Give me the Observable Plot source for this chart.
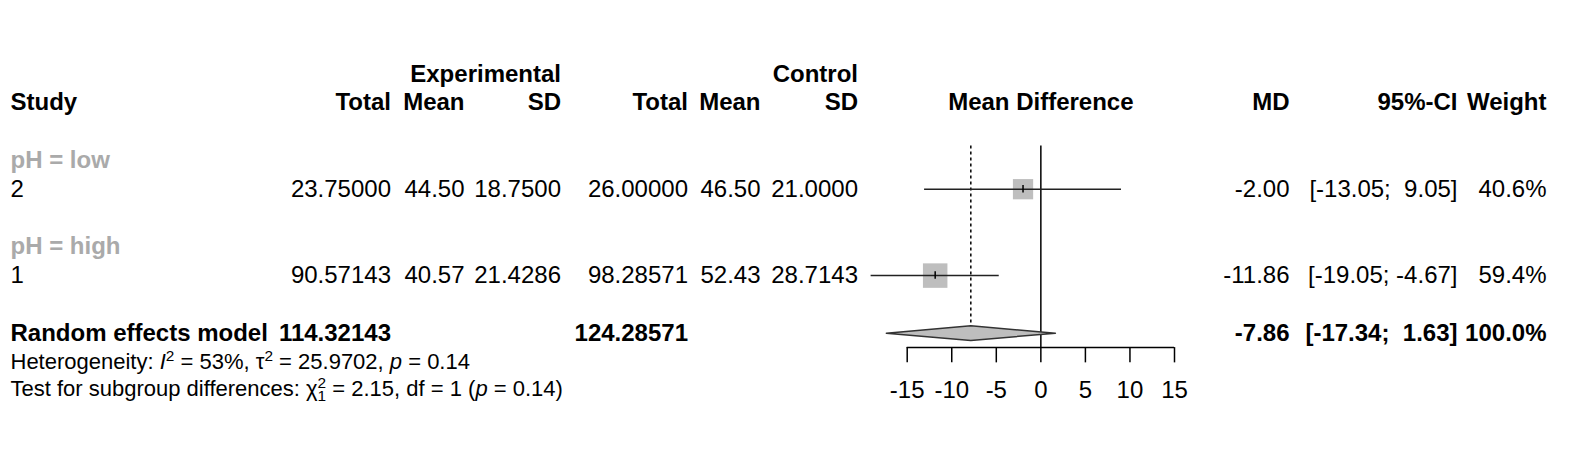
<!DOCTYPE html>
<html><head><meta charset="utf-8">
<script src="https://cdn.jsdelivr.net/npm/d3@7"></script>
<script src="https://cdn.jsdelivr.net/npm/@observablehq/plot@0.6"></script>
<style>
body{margin:0;background:#fff}
#chart svg{font-family:"Liberation Sans",Arial,Helvetica,sans-serif;background:#fff}
</style>
</head><body><div id="chart"></div>
<script>
// ---- data ----
const groups = ["pH = low", "pH = high"];
const studies = ["2", "1"];
const expTotal = [23.75, 90.57143];
const expMean = [44.50, 40.57];
const expSD = [18.75, 21.4286];
const ctrlTotal = [26.0, 98.28571];
const ctrlMean = [46.50, 52.43];
const ctrlSD = [21.0, 28.7143];
const md = [-2.00, -11.86];
const ciLower = [-13.05, -19.05];
const ciUpper = [9.05, -4.67];
const weight = [40.6, 59.4];
const pooledLabel = "Random effects model";
const pooledTotals = [114.32143, 124.28571];
const pooledMD = -7.86;
const pooledCI = [-17.34, 1.63];
const pooledWeight = 100.0;
const xTicks = [-15, -10, -5, 0, 5, 10, 15];
const hetI2 = 53, hetTau2 = "25.9702", hetP = "0.14";
const subChi2 = "2.15", subDf = 1, subP = "0.14";

// ---- layout constants ----
const FS = 24, FSH = 22;
const ROW0 = 73.5, ROWH = 28.8;
const loc = d3.formatLocale({decimal: ".", thousands: ",", grouping: [3], currency: ["", ""], minus: "-"});
const f2 = loc.format(".2f"), f4 = loc.format(".4f"), f5 = loc.format(".5f"), f1 = loc.format(".1f");
const upW = d3.max([...ciUpper, pooledCI[1]].map(v => f2(v).length));
const ciStr = (lo, hi) => "[" + f2(lo) + "; " + f2(hi).padStart(upW, "\u00a0") + "]";

const rows = studies.map((s, i) => ({
  group: groups[i], study: s, gk: 3 + 3 * i, k: 4 + 3 * i,
  eT: f5(expTotal[i]), eM: f2(expMean[i]), eS: f4(expSD[i]),
  cT: f5(ctrlTotal[i]), cM: f2(ctrlMean[i]), cS: f4(ctrlSD[i]),
  md: md[i], lower: ciLower[i], upper: ciUpper[i], weight: weight[i],
  mdS: f2(md[i]), ciS: ciStr(ciLower[i], ciUpper[i]), wS: f1(weight[i]) + "%"
}));
const pooledK = 9;
const pooled = [{k: pooledK, label: pooledLabel, eT: f5(pooledTotals[0]), cT: f5(pooledTotals[1]),
  mdS: f2(pooledMD), ciS: ciStr(pooledCI[0], pooledCI[1]), wS: f1(pooledWeight) + "%"}];

const colRight = {eT: 390.5, eM: 464, eS: 560.5, cT: 687.5, cM: 760, cS: 857.5, mdS: 1289, ciS: 1457, wS: 1546};
const headers = {eT: "Total", eM: "Mean", eS: "SD", cT: "Total", cM: "Mean", cS: "SD", mdS: "MD", ciS: "95%-CI", wS: "Weight"};
const LEFT = 10;
const diamondH = 0.255;

const textCommon = {fontSize: FS, fill: "#000", frameAnchor: "left", textAnchor: "end"};
const marks = [];

// header row 0
marks.push(Plot.text(["Experimental"], {...textCommon, y: () => 0, text: d => d, dx: colRight.eS, fontWeight: "bold"}));
marks.push(Plot.text(["Control"], {...textCommon, y: () => 0, text: d => d, dx: colRight.cS, fontWeight: "bold"}));
// header row 1
marks.push(Plot.text(["Study"], {...textCommon, y: () => 1, text: d => d, dx: LEFT, textAnchor: "start", fontWeight: "bold"}));
for (const key of Object.keys(headers)) {
  marks.push(Plot.text([headers[key]], {...textCommon, y: () => 1, text: d => d, dx: colRight[key], fontWeight: "bold"}));
}
marks.push(Plot.text(["Mean Difference"], {fontSize: FS, fontWeight: "bold", fill: "#000", y: () => 1,
  x: () => (d3.min(xTicks) + d3.max(xTicks)) / 2, text: d => d, textAnchor: "middle"}));

// group labels
marks.push(Plot.text(rows, {...textCommon, y: "gk", text: "group", dx: LEFT, textAnchor: "start", fontWeight: "bold", fill: "#aaaaaa"}));
// study rows
marks.push(Plot.text(rows, {...textCommon, y: "k", text: "study", dx: LEFT, textAnchor: "start"}));
for (const key of Object.keys(colRight)) {
  marks.push(Plot.text(rows, {...textCommon, y: "k", text: key, dx: colRight[key]}));
}
// pooled row
marks.push(Plot.text(pooled, {...textCommon, y: "k", text: "label", dx: LEFT, textAnchor: "start", fontWeight: "bold"}));
for (const key of ["eT", "cT", "mdS", "ciS", "wS"]) {
  marks.push(Plot.text(pooled, {...textCommon, y: "k", text: key, dx: colRight[key], fontWeight: "bold"}));
}
// heterogeneity + subgroup test
const hetText = `Heterogeneity: I2 = ${hetI2}%, τ2 = ${hetTau2}, p = ${hetP}`;
const subText = `Test for subgroup differences: χ21 = ${subChi2}, df = ${subDf} (p = ${subP})`;
marks.push(Plot.text([hetText], {...textCommon, fontSize: FSH, y: () => 10, dx: LEFT, textAnchor: "start", text: d => d}));
marks.push(Plot.text([subText], {...textCommon, fontSize: FSH, y: () => 10.93, dx: LEFT, textAnchor: "start", text: d => d}));

// forest graphics
marks.push(Plot.ruleX([0], {x: d => d, y1: 2.5, y2: 9.5, stroke: "#000", strokeWidth: 1.5}));
marks.push(Plot.ruleX([pooledMD], {x: d => d, y1: 2.5, y2: pooledK - diamondH, stroke: "#000", strokeWidth: 1.5, strokeDasharray: "3,3"}));
marks.push(Plot.dot(rows, {x: "md", y: "k", r: "weight", symbol: "square", fill: "#bebebe", stroke: "none"}));
marks.push(Plot.ruleY(rows, {y: "k", x1: "lower", x2: "upper", stroke: "#222", strokeWidth: 1.5}));
marks.push(Plot.ruleX(rows, {x: "md", y1: d => d.k - 0.13, y2: d => d.k + 0.13, stroke: "#000", strokeWidth: 1.5}));
const diamond = [
  {x: pooledCI[0], y: pooledK}, {x: pooledMD, y: pooledK - diamondH},
  {x: pooledCI[1], y: pooledK}, {x: pooledMD, y: pooledK + diamondH}, {x: pooledCI[0], y: pooledK}
];
marks.push(Plot.line(diamond, {x: "x", y: "y", fill: "#bebebe", stroke: "#333", strokeWidth: 1.5}));

// axis
marks.push(Plot.ruleY([9.5], {y: d => d, x1: () => d3.min(xTicks), x2: () => d3.max(xTicks), stroke: "#000", strokeWidth: 1.5}));
marks.push(Plot.ruleX(xTicks, {x: d => d, y1: 9.5, y2: 10.03, stroke: "#000", strokeWidth: 1.5}));
marks.push(Plot.text(xTicks, {x: d => d, y: () => 11, text: d => String(d), fontSize: FS, fill: "#000"}));

const chart = Plot.plot({
  width: 1578, height: 452, margin: 0,
  style: {fontFamily: '"Liberation Sans",Arial,Helvetica,sans-serif', background: "#fff", overflow: "visible"},
  x: {domain: [-15, 15], range: [906.7, 1174], axis: null},
  y: {type: "linear", domain: [0, 12], range: [ROW0, ROW0 + 12 * ROWH], axis: null},
  r: {domain: [0, d3.max(weight)], range: [0, 24.5 / Math.sqrt(Math.PI)]},
  marks
});

// rich text (italics, super/subscripts)
function rich(textEl, segs, fs) {
  const t = d3.select(textEl);
  t.text(null);
  let off = 0;
  for (const s of segs) {
    const target = s.shift || 0;
    const ts = t.append("tspan").text(s.t);
    if (target !== off) { ts.attr("dy", target - off); off = target; }
    if (s.dx) ts.attr("dx", s.dx);
    if (s.italic) ts.attr("font-style", "italic");
    if (s.small) ts.attr("font-size", fs * 0.7);
  }
}
d3.select(chart).selectAll("text").each(function() {
  const c = this.textContent;
  if (c === hetText) {
    rich(this, [
      {t: "Heterogeneity: "}, {t: "I", italic: true}, {t: "2", small: true, shift: -8},
      {t: " = " + hetI2 + "%, τ"}, {t: "2", small: true, shift: -8},
      {t: " = " + hetTau2 + ", "}, {t: "p", italic: true}, {t: " = " + hetP}
    ], FSH);
  } else if (c === subText) {
    rich(this, [
      {t: "Test for subgroup differences: χ"}, {t: "2", small: true, shift: -8},
      {t: String(subDf), small: true, shift: 5, dx: -FSH * 0.7 * 0.556},
      {t: " = " + subChi2 + ", df = " + subDf + " ("}, {t: "p", italic: true}, {t: " = " + subP + ")"}
    ], FSH);
  }
});

document.getElementById("chart").appendChild(chart);
</script>
</body></html>
